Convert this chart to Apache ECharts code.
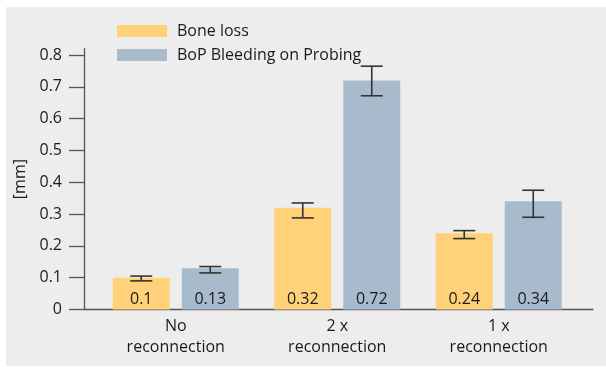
<!DOCTYPE html>
<html>
<head>
<meta charset="utf-8">
<script src="https://cdn.jsdelivr.net/npm/echarts@6/dist/echarts.min.js"></script>
<style>
  html, body { margin: 0; padding: 0; background: #ffffff; }
  #chart { width: 606px; height: 367px; }
</style>
</head>
<body>
<div id="chart"></div>
<script>
// Categories and measured means (mm)
const categories = ['No\nreconnection', '2 x\nreconnection', '1 x\nreconnection'];
const boneLoss = [0.1, 0.32, 0.24];
const bop = [0.13, 0.72, 0.34];

// Error bar extents (low, high)
const boneLossLow = [0.09, 0.288, 0.223];
const boneLossHigh = [0.105, 0.335, 0.248];
const bopLow = [0.115, 0.672, 0.29];
const bopHigh = [0.135, 0.765, 0.375];

// Y axis ticks
const yTicks = [0, 0.1, 0.2, 0.3, 0.4, 0.5, 0.6, 0.7, 0.8];
const yMax = 0.82;

const FONT = '"Open Sans", "Noto Sans", sans-serif';
const TEXT = '#1a1a1a';
const AXIS = '#555555';
const BAR_W = 57;
const BAR_GAP = 12;
const HALF_STEP = (BAR_W + BAR_GAP) / 2;
const CAP = 11;

function errData(lo, hi) {
  return lo.map((v, i) => [i, v, hi[i]]);
}

// Whisker with top and bottom caps, offset to sit over its bar in the group
function errRenderer(sign) {
  return function (params, api) {
    const x = api.coord([api.value(0), 0])[0] + sign * HALF_STEP;
    const yLo = api.coord([api.value(0), api.value(1)])[1];
    const yHi = api.coord([api.value(0), api.value(2)])[1];
    const style = { stroke: '#333333', lineWidth: 1.6 };
    return {
      type: 'group',
      children: [
        { type: 'line', shape: { x1: x, y1: yLo, x2: x, y2: yHi }, style },
        { type: 'line', shape: { x1: x - CAP, y1: yHi, x2: x + CAP, y2: yHi }, style },
        { type: 'line', shape: { x1: x - CAP, y1: yLo, x2: x + CAP, y2: yLo }, style }
      ]
    };
  };
}

const valueLabel = {
  show: true,
  position: 'insideBottom',
  distance: 2,
  fontFamily: FONT,
  fontSize: 16,
  color: TEXT,
  formatter: p => String(p.value)
};

const chart = echarts.init(document.getElementById('chart'), null, { renderer: 'canvas' });

chart.setOption({
  animation: false,
  backgroundColor: '#ffffff',
  textStyle: { fontFamily: FONT },
  graphic: [{
    type: 'rect',
    left: 6, top: 7,
    shape: { width: 600, height: 359 },
    style: { fill: '#ededed' },
    z: -10
  }],
  legend: {
    orient: 'vertical',
    left: 112,
    top: 18,
    itemWidth: 50,
    itemHeight: 12,
    itemGap: 8,
    icon: 'rect',
    textStyle: { fontFamily: FONT, fontSize: 16, color: TEXT, lineHeight: 16, padding: [0, 0, 0, 5] },
    data: ['Bone loss', 'BoP Bleeding on Probing']
  },
  grid: [
    // bar area
    { left: 95, width: 484.5, top: 48.7, bottom: 57.5 },
    // axis frame (longer x-axis line, left y-axis)
    { left: 84, right: 13, top: 48.7, bottom: 57.5 }
  ],
  xAxis: [
    {
      type: 'category',
      gridIndex: 0,
      data: categories,
      axisLine: { show: false },
      axisTick: { show: false },
      axisLabel: { fontFamily: FONT, fontSize: 16, color: TEXT, lineHeight: 21, margin: 6 }
    },
    {
      type: 'value',
      gridIndex: 1,
      min: 0, max: 1,
      axisLine: { show: true, lineStyle: { color: AXIS, width: 1.3 } },
      axisTick: { show: false },
      axisLabel: { show: false },
      splitLine: { show: false }
    }
  ],
  yAxis: [
    {
      type: 'value',
      gridIndex: 0,
      min: 0, max: yMax,
      show: false,
      splitLine: { show: false }
    },
    {
      type: 'value',
      gridIndex: 1,
      min: 0, max: yMax,
      name: '[mm]',
      nameLocation: 'middle',
      nameRotate: 90,
      nameGap: 56,
      nameTextStyle: { fontFamily: FONT, fontSize: 16, color: TEXT },
      axisLine: { show: true, lineStyle: { color: AXIS, width: 1.3 } },
      axisTick: { show: true, length: 15, customValues: yTicks, lineStyle: { color: AXIS, width: 1.3 } },
      axisLabel: { customValues: yTicks, margin: 22, fontFamily: FONT, fontSize: 16, color: TEXT },
      splitLine: { show: false }
    }
  ],
  series: [
    {
      name: 'Bone loss',
      type: 'bar',
      xAxisIndex: 0, yAxisIndex: 0,
      data: boneLoss,
      barWidth: BAR_W,
      barGap: (BAR_GAP / BAR_W * 100) + '%',
      itemStyle: { color: '#ffd27a' },
      label: valueLabel
    },
    {
      name: 'BoP Bleeding on Probing',
      type: 'bar',
      xAxisIndex: 0, yAxisIndex: 0,
      data: bop,
      barWidth: BAR_W,
      barGap: (BAR_GAP / BAR_W * 100) + '%',
      itemStyle: { color: '#a8bbcc' },
      label: valueLabel
    },
    {
      type: 'custom',
      xAxisIndex: 0, yAxisIndex: 0,
      renderItem: errRenderer(-1),
      data: errData(boneLossLow, boneLossHigh),
      encode: { x: 0, y: [1, 2] },
      z: 5,
      silent: true
    },
    {
      type: 'custom',
      xAxisIndex: 0, yAxisIndex: 0,
      renderItem: errRenderer(1),
      data: errData(bopLow, bopHigh),
      encode: { x: 0, y: [1, 2] },
      z: 5,
      silent: true
    }
  ]
});
</script>
</body>
</html>
